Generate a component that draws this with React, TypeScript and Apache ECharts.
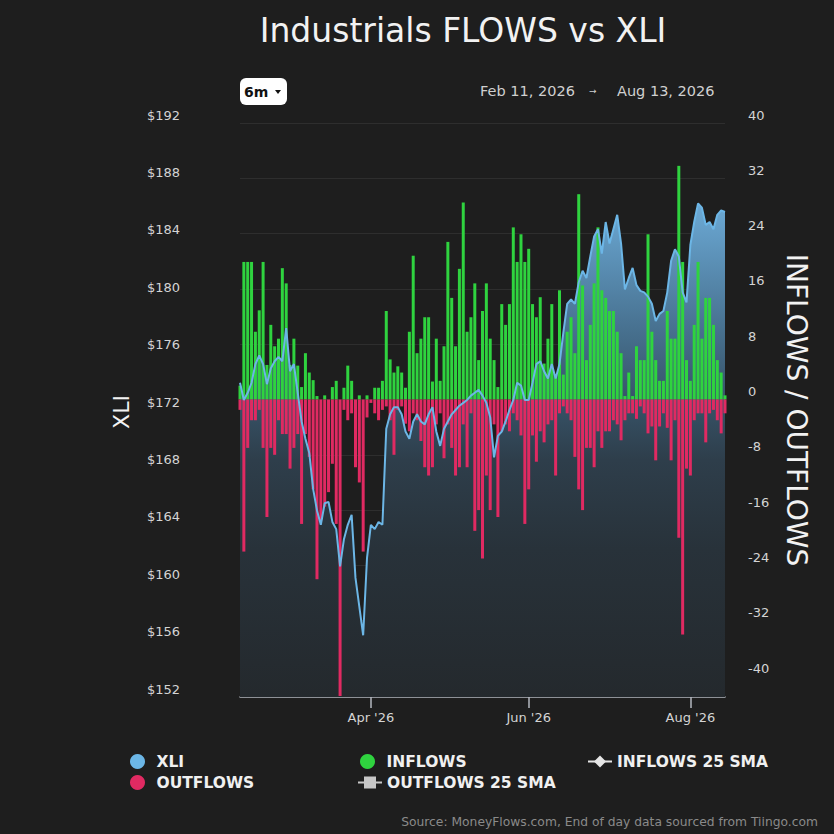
import React, { useEffect, useRef } from 'react';
import * as echarts from 'echarts';

const xli = [
  173.9, 172.7, 173.2, 173.9, 175.2, 175.8, 175.2, 173.8, 174.9, 175.4,
  175.7, 175.4, 177.7, 174.7, 175.2, 173.2, 171.2, 170.0, 169.0, 166.5,
  165.0, 164.0, 165.5, 165.6, 164.2, 163.7, 161.1, 163.0, 164.0, 164.7,
  160.3, 158.3, 156.3, 161.7, 164.0, 163.7, 164.2, 164.0, 170.7, 171.7,
  172.2, 172.2, 171.7, 170.5, 170.0, 171.2, 171.7, 171.2, 171.0, 171.7,
  172.2, 170.5, 169.5, 170.7, 171.2, 171.7, 172.0, 172.3, 172.5, 172.7,
  173.0, 173.2, 173.4, 173.0, 172.5, 171.5, 168.7, 170.2, 170.5, 171.2,
  172.0, 172.7, 173.9, 173.7, 172.7, 172.7, 173.9, 175.2, 175.4, 174.7,
  174.2, 175.2, 174.2, 175.2, 177.4, 179.4, 179.7, 179.4, 180.9, 181.7,
  181.2, 182.7, 184.1, 184.6, 182.9, 185.1, 183.6, 184.6, 185.6, 183.6,
  180.4, 181.2, 181.9, 180.7, 180.3, 180.2, 179.9, 179.4, 178.2, 178.7,
  178.9, 180.2, 182.4, 183.2, 182.7, 180.2, 179.5, 183.5, 185.1, 186.4,
  186.1, 184.9, 185.1, 184.6, 185.6, 185.9, 185.8,
];

const inflows = [
  2, 19.9, 19.9, 19.9, 9.8, 12.9, 19.9, 5, 10.8, 7.7,
  8.8, 19, 16.8, 5, 8.8, 4.9, 1.8, 6.7, 3.9, 2.8,
  0.5, 0, 0.6, 0, 1.8, 2.7, 0, 1.7, 4.9, 2.7,
  0, 0.6, 0, 0.6, 0, 1.7, 1.7, 2.7, 12.8, 5.8,
  3.9, 4.8, 3.9, 1.7, 9.8, 20.8, 6.7, 8.8, 11.9, 11.9,
  2.6, 8.8, 2.7, 7.7, 22.8, 14.7, 7.7, 18.9, 28.5, 9.8,
  11.9, 16.8, 5.7, 12.8, 16.8, 8.8, 5.7, 1.8, 13.8, 10.8,
  13.8, 24.9, 19.9, 23.9, 19.9, 21.8, 13.8, 11.9, 14.8, 5.2,
  8.8, 13.8, 3.6, 15.8, 3.6, 9.8, 11.9, 6.7, 29.7, 16.5,
  5.7, 10.8, 16.8, 24.9, 15.8, 14.7, 12.8, 12.8, 9.8, 6.7,
  0.5, 3.9, 0.5, 7.7, 5.7, 5.7, 23.9, 9.8, 5.7, 2.7,
  2.7, 12.8, 8.8, 8.8, 33.8, 19.9, 5.7, 2.7, 10.8, 19.9,
  8.8, 14.7, 14.7, 10.8, 5.7, 3.9, 0.6,
];

const outflows = [
  -1.5, -22, -7, -3, -3, -1.5, -7, -17, -7, -8,
  -3, -5, -5, -10, -7, -5, -18, -5, -8.3, -13,
  -26, -17.5, -15.5, -13.4, -9.3, -18, -42.9, -1.5, -3, -2,
  -9.8, -12, -22, -2.6, -0.5, -2, -3, -1.5, -1, -3,
  -8, -1.5, -1, -3.5, -4.6, -2, -3, -6, -9.8, -11,
  -9.8, -3.6, -2, -8.5, -3.6, -7, -11, -9.8, -3.6, -9.8,
  -2, -19, -16, -23, -11, -16, -3.6, -17, -4.6, -3.6,
  -4.6, -2, -3, -5.2, -18, -13, -5.2, -9, -4.6, -6.2,
  -3.6, -3, -11, -2, -1, -2, -3, -8.3, -13, -16,
  -7, -7, -9.8, -4.6, -7, -4.6, -4.6, -3, -3.6, -5.9,
  -3, -2, -2, -2.8, -1, -2, -4.9, -3.9, -8.8, -3.9,
  -2, -4.1, -8.8, -3, -20, -34, -10, -11, -3, -2,
  -2, -6.2, -2, -1.5, -3, -4.9, -2,
];

const tickIndices = [34, 75, 117];
const tickLabels = ["Apr '26", "Jun '26", "Aug '26"];
const categories = xli.map((_, i) => String(i));

const FONT = "'DejaVu Sans', 'Open Sans', sans-serif";
const BLUE = '#6cb6e6';
const GREEN = '#2fd33f';
const RED = '#e02a62';

export default function App() {
  const ref = useRef<HTMLDivElement>(null);
  useEffect(() => {
    if (!ref.current) return;
    const chart = echarts.init(ref.current, undefined, { renderer: 'svg' });
    const legendText = { color: '#f0f0f0', fontSize: 15.5, fontWeight: 'bold', fontFamily: FONT };
    const legendBase = { padding: 0, itemHeight: 15, selectedMode: false, textStyle: legendText };
    const option = {
      animation: false,
      backgroundColor: '#1e1e1e',
      textStyle: { fontFamily: FONT },
      title: {
        text: 'Industrials FLOWS vs XLI',
        left: 458,
        top: 9,
        textAlign: 'center',
        textStyle: { color: '#f2f2f2', fontSize: 33, fontWeight: 'normal', fontFamily: FONT },
      },
      grid: [
        { left: 240, right: 109, top: 123, bottom: 137 },
        { left: 240, right: 109, top: 123, bottom: 158 },
      ],
      xAxis: [
        {
          type: 'category',
          gridIndex: 0,
          data: categories,
          boundaryGap: false,
          axisLine: { lineStyle: { color: '#b4b8c0', width: 1.5 } },
          axisTick: {
            interval: (i: number) => tickIndices.includes(i),
            length: 11,
            lineStyle: { color: '#b4b8c0', width: 1.5 },
          },
          axisLabel: {
            interval: (i: number) => tickIndices.includes(i),
            formatter: (v: string) => tickLabels[tickIndices.indexOf(Number(v))] || '',
            color: '#d4d4d4',
            fontSize: 13,
            margin: 14,
          },
          splitLine: { show: false },
        },
        { type: 'category', gridIndex: 1, data: categories, boundaryGap: false, show: false },
      ],
      yAxis: [
        {
          type: 'value',
          gridIndex: 0,
          position: 'left',
          min: 152,
          max: 192,
          interval: 4,
          splitLine: { show: false },
          axisLine: { show: false },
          axisTick: { show: false },
          axisLabel: {
            formatter: (v: number) => '$' + v,
            color: '#d4d4d4',
            fontSize: 13,
            align: 'right',
            verticalAlign: 'bottom',
            lineHeight: 16,
            margin: 60,
          },
        },
        {
          type: 'value',
          gridIndex: 1,
          position: 'right',
          min: -40,
          max: 40,
          interval: 8,
          splitLine: { lineStyle: { color: 'rgba(255,255,255,0.075)', width: 1 } },
          axisLine: { show: false },
          axisTick: { show: false },
          axisLabel: {
            color: '#d4d4d4',
            fontSize: 13,
            align: 'left',
            verticalAlign: 'bottom',
            lineHeight: 16,
            margin: 23,
          },
        },
      ],
      legend: [
        { ...legendBase, left: 130, top: 753.5, itemWidth: 28, data: [{ name: 'XLI', icon: 'circle' }] },
        { ...legendBase, left: 130, top: 774.5, itemWidth: 28, data: [{ name: 'OUTFLOWS', icon: 'circle' }] },
        { ...legendBase, left: 360, top: 753.5, itemWidth: 28, data: [{ name: 'INFLOWS', icon: 'circle' }] },
        { ...legendBase, left: 357, top: 774.5, itemWidth: 24, data: [{ name: 'OUTFLOWS 25 SMA' }] },
        { ...legendBase, left: 587, top: 753.5, itemWidth: 24, data: [{ name: 'INFLOWS 25 SMA' }] },
      ],
      graphic: [
        { type: 'rect', shape: { x: 240, y: 78, width: 47, height: 27, r: 6 }, style: { fill: '#ffffff' } },
        {
          type: 'text',
          x: 244,
          y: 92,
          style: { text: '6m', fill: '#111111', font: `bold 14px ${FONT}`, verticalAlign: 'middle' },
        },
        { type: 'polygon', shape: { points: [[275, 90], [281, 90], [278, 94]] }, style: { fill: '#111111' } },
        {
          type: 'text',
          x: 480,
          y: 91,
          style: { text: 'Feb 11, 2026', fill: '#d0d0d0', font: `14.5px ${FONT}`, verticalAlign: 'middle' },
        },
        {
          type: 'text',
          x: 589,
          y: 91,
          style: { text: '→', fill: '#d0d0d0', font: `9px ${FONT}`, verticalAlign: 'middle' },
        },
        {
          type: 'text',
          x: 617,
          y: 91,
          style: { text: 'Aug 13, 2026', fill: '#d0d0d0', font: `14.5px ${FONT}`, verticalAlign: 'middle' },
        },
        {
          type: 'text',
          x: 121,
          y: 412,
          rotation: Math.PI / 2,
          style: { text: 'XLI', fill: '#f2f2f2', font: `22px ${FONT}`, align: 'center', verticalAlign: 'middle' },
        },
        {
          type: 'text',
          x: 796,
          y: 410,
          rotation: -Math.PI / 2,
          style: {
            text: 'INFLOWS / OUTFLOWS',
            fill: '#f2f2f2',
            font: `28px ${FONT}`,
            align: 'center',
            verticalAlign: 'middle',
          },
        },
        {
          type: 'text',
          x: 818,
          y: 822,
          style: {
            text: 'Source: MoneyFlows.com, End of day data sourced from Tiingo.com',
            fill: '#8a8a8a',
            font: `12.3px ${FONT}`,
            align: 'right',
            verticalAlign: 'middle',
          },
        },
      ],
      series: [
        {
          name: 'XLI',
          type: 'line',
          xAxisIndex: 0,
          yAxisIndex: 0,
          data: xli,
          symbol: 'none',
          silent: true,
          z: 1,
          itemStyle: { color: BLUE },
          lineStyle: { width: 0, opacity: 0 },
          areaStyle: {
            opacity: 1,
            color: new echarts.graphic.LinearGradient(0, 0, 0, 1, [
              { offset: 0, color: 'rgb(108,170,214)' },
              { offset: 0.25, color: 'rgb(72,114,145)' },
              { offset: 0.4, color: 'rgb(55,83,104)' },
              { offset: 0.52, color: 'rgb(46,62,75)' },
              { offset: 0.7, color: 'rgb(40,50,58)' },
              { offset: 1, color: 'rgb(36,41,45)' },
            ]),
          },
        },
        {
          name: 'INFLOWS',
          type: 'bar',
          xAxisIndex: 1,
          yAxisIndex: 1,
          data: inflows,
          barWidth: '78%',
          clip: false,
          z: 2,
          itemStyle: { color: GREEN },
        },
        {
          name: 'OUTFLOWS',
          type: 'bar',
          xAxisIndex: 1,
          yAxisIndex: 1,
          data: outflows,
          barWidth: '78%',
          barGap: '-100%',
          clip: false,
          z: 2,
          itemStyle: { color: RED },
        },
        {
          name: 'XLI',
          type: 'line',
          xAxisIndex: 0,
          yAxisIndex: 0,
          data: xli,
          symbol: 'none',
          z: 3,
          itemStyle: { color: BLUE },
          lineStyle: { color: BLUE, width: 2 },
        },
        {
          name: 'INFLOWS 25 SMA',
          type: 'line',
          xAxisIndex: 1,
          yAxisIndex: 1,
          data: [],
          symbol: 'diamond',
          symbolSize: 8,
          itemStyle: { color: '#e6e6e6' },
          lineStyle: { color: '#e6e6e6', width: 2 },
        },
        {
          name: 'OUTFLOWS 25 SMA',
          type: 'line',
          xAxisIndex: 1,
          yAxisIndex: 1,
          data: [],
          symbol: 'rect',
          symbolSize: 9,
          itemStyle: { color: '#c8c8c8' },
          lineStyle: { color: '#c8c8c8', width: 2 },
        },
      ],
    };
    chart.setOption(option as any);
    return () => chart.dispose();
  }, []);
  return (
    <div
      ref={ref}
      style={{ position: 'fixed', left: 0, top: 0, width: 834, height: 834 }}
    />
  );
}
